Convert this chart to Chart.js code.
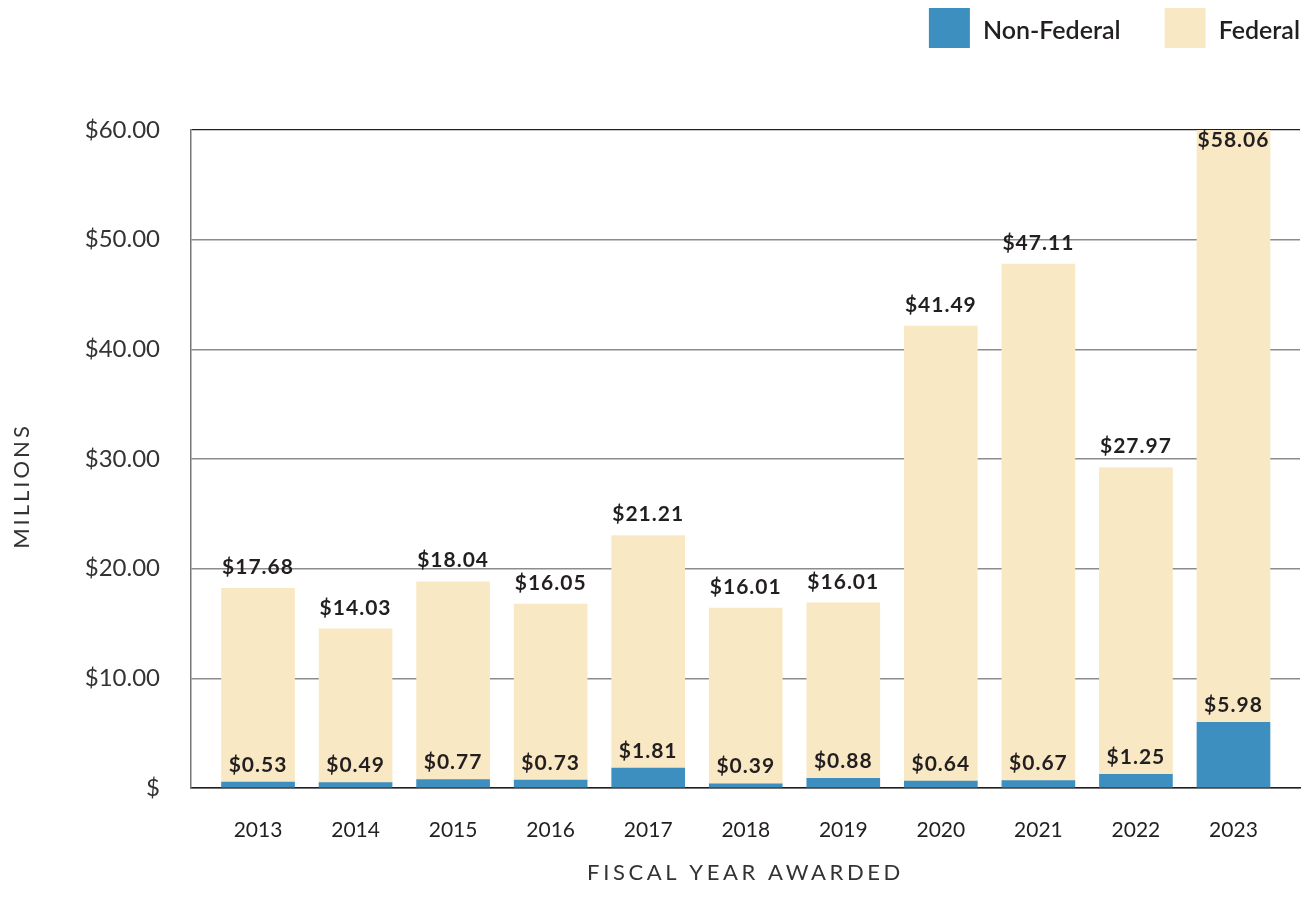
<!DOCTYPE html>
<html>
<head>
<meta charset="utf-8">
<script src="https://cdn.jsdelivr.net/npm/chart.js@4/dist/chart.umd.min.js"></script>
<style>
  html, body { margin: 0; padding: 0; background: #fff; }
</style>
</head>
<body>
<canvas id="chart" width="1312" height="913"></canvas>
<script>
// values (millions of dollars)
const years = [2013, 2014, 2015, 2016, 2017, 2018, 2019, 2020, 2021, 2022, 2023];
const nonFederal = [0.53, 0.49, 0.77, 0.73, 1.81, 0.39, 0.88, 0.64, 0.67, 1.25, 5.98];
const federal = [17.68, 14.03, 18.04, 16.05, 21.21, 16.01, 16.01, 41.49, 47.11, 27.97, 58.06];
const seriesNames = ['Non-Federal', 'Federal'];

const BLUE = '#3d8fc0';
const CREAM = '#f9e8c4';
const INK = '#231f20';

function money(v) {
  return '$' + v.toFixed(2);
}

// value labels on each bar
const barLabels = {
  id: 'barLabels',
  afterDatasetsDraw(chart) {
    const ctx = chart.ctx;
    const area = chart.chartArea;
    ctx.save();
    ctx.font = '700 21px Lato';
    ctx.letterSpacing = '1px';
    ctx.fillStyle = INK;
    ctx.textAlign = 'center';
    ctx.textBaseline = 'middle';
    chart.getDatasetMeta(0).data.forEach((bar, i) => {
      ctx.fillText(money(nonFederal[i]), bar.x, bar.y - 17);
    });
    chart.getDatasetMeta(1).data.forEach((bar, i) => {
      const y = Math.max(bar.y - 21, area.top + 10);
      ctx.fillText(money(federal[i]), bar.x, y);
    });
    ctx.restore();
  }
};

// legend top right + spaced axis titles
const decorations = {
  id: 'decorations',
  afterDraw(chart) {
    const ctx = chart.ctx;
    const area = chart.chartArea;
    ctx.save();

    ctx.font = '600 25px Lato';
    ctx.textAlign = 'left';
    ctx.textBaseline = 'middle';
    const items = chart.data.datasets.map(d => ({ text: d.label, color: d.backgroundColor }));
    const widths = items.map(it => 41 + 13 + ctx.measureText(it.text).width);
    const total = widths.reduce((a, b) => a + b, 0) + 44 * (items.length - 1);
    let x = area.right - total;
    items.forEach((it, i) => {
      ctx.fillStyle = it.color;
      ctx.fillRect(x, 8, 41, 40);
      ctx.fillStyle = INK;
      ctx.fillText(it.text, x + 54, 31);
      x += widths[i] + 44;
    });

    ctx.fillStyle = '#333';
    ctx.font = '400 22px Lato';
    ctx.letterSpacing = '3.6px';
    ctx.textAlign = 'center';
    ctx.fillText('FISCAL YEAR AWARDED', (area.left + area.right) / 2, 873);

    ctx.letterSpacing = '3px';
    ctx.translate(22, 486);
    ctx.rotate(-Math.PI / 2);
    ctx.fillText('MILLIONS', 0, 0);
    ctx.restore();
  }
};

function draw() {
  new Chart(document.getElementById('chart'), {
    type: 'bar',
    data: {
      datasets: [
        {
          label: seriesNames[0],
          data: years.map((yr, i) => ({ x: yr, y: nonFederal[i] })),
          backgroundColor: BLUE,
          barThickness: 73
        },
        {
          label: seriesNames[1],
          data: years.map((yr, i) => ({ x: yr, y: federal[i] })),
          backgroundColor: CREAM,
          barThickness: 73
        }
      ]
    },
    options: {
      responsive: false,
      animation: false,
      layout: { padding: { top: 130, right: 12, bottom: 0, left: 0 } },
      plugins: {
        legend: { display: false },
        tooltip: { enabled: false }
      },
      scales: {
        x: {
          type: 'linear',
          stacked: true,
          offset: false,
          min: 2012.313,
          max: 2023.682,
          grid: { display: false, drawTicks: false, offset: false },
          border: { color: INK, width: 1.5 },
          ticks: {
            stepSize: 1,
            includeBounds: false,
            autoSkip: false,
            maxRotation: 0,
            padding: 30,
            color: INK,
            font: { family: 'Lato', size: 21 },
            callback: v => Number.isInteger(v) ? String(v) : ''
          },
          afterFit: s => { s.height = 125; }
        },
        y: {
          stacked: true,
          min: 0,
          max: 60,
          ticks: {
            stepSize: 10,
            padding: 31,
            color: '#333',
            font: { family: 'Lato', size: 24, weight: '400' },
            callback: v => v === 0 ? '$' : money(v)
          },
          grid: {
            drawTicks: false,
            color: c => c.tick && c.tick.value === 60 ? INK : '#8c8c8c',
            lineWidth: c => c.tick && c.tick.value === 60 ? 1.2 : 1.5
          },
          border: { color: '#777', width: 1.5 },
          afterFit: s => { s.width = 191; }
        }
      }
    },
    plugins: [barLabels, decorations]
  });
}

Promise.all([
  document.fonts.load('700 21px Lato'),
  document.fonts.load('600 25px Lato'),
  document.fonts.load('400 24px Lato'),
  document.fonts.load('400 22px Lato')
]).then(draw, draw);
</script>
</body>
</html>
